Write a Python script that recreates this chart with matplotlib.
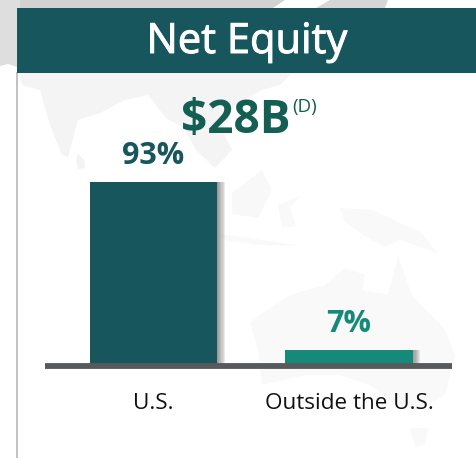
import matplotlib
matplotlib.use("Agg")
import matplotlib.pyplot as plt
import matplotlib.patheffects as pe
from matplotlib.patches import Polygon, Rectangle

categories = ["U.S.", "Outside the U.S."]
shares = [93, 7]
share_labels = ["93%", "7%"]
total_label = "$28B"
total_note = "(D)"
title = "Net Equity"

W, H = 477, 458
DARK = "#16565C"
TEAL = "#158A78"

plt.rcParams['font.family'] = ['Open Sans', 'DejaVu Sans']

fig = plt.figure(figsize=(W / 100, H / 100), dpi=100, facecolor="white")

# background layer in pixel coordinates, y going down
bg = fig.add_axes([0, 0, 1, 1], zorder=0)
bg.set_xlim(0, W)
bg.set_ylim(H, 0)
bg.axis("off")

# faint world map behind the chart, rough outlines only
top_land = [(0, 0), (285, 0), (270, 10), (0, 10)]
top_right = [(316, 8), (330, 0), (388, 0), (385, 8)]
left_land = [(0, 0), (20, 0), (20, 68), (8, 64), (0, 66)]
asia = [(18, 73), (292, 73), (280, 85), (262, 90), (235, 105), (222, 130), (232, 150),
        (215, 168), (196, 150), (184, 128), (166, 118), (148, 95), (125, 100), (100, 113),
        (78, 120), (68, 157), (62, 155), (50, 125), (40, 90), (22, 85)]
sri_lanka = [(78, 154), (84, 160), (85, 168), (78, 169), (76, 160)]
borneo = [(232, 193), (262, 170), (272, 190), (258, 218), (232, 214)]
sulawesi = [(278, 205), (300, 196), (290, 208), (296, 226), (282, 228)]
new_guinea = [(340, 208), (372, 210), (420, 232), (438, 253), (400, 240), (385, 247), (368, 238), (345, 222)]
java = [(218, 234), (250, 238), (300, 246), (260, 245), (225, 240)]
australia = [(250, 322), (290, 295), (325, 285), (345, 268), (365, 275), (362, 290), (388, 295), (398, 256),
             (412, 295), (445, 330), (455, 355), (445, 395), (420, 410), (395, 405), (370, 385),
             (340, 375), (305, 375), (262, 385), (258, 350)]
tasmania = [(410, 428), (428, 428), (425, 445), (415, 447)]

for pts, col in [(top_land, "#d2d2d2"), (top_right, "#d6d6d6"), (left_land, "#dedede"),
                 (asia, "#f4f4f4"), (sri_lanka, "#f3f3f3"), (borneo, "#f8f8f8"),
                 (sulawesi, "#f9f9f9"), (new_guinea, "#f9f9f9"), (java, "#f9f9f9"),
                 (australia, "#f9f9f9"), (tasmania, "#f9f9f9")]:
    bg.add_patch(Polygon(pts, closed=True, facecolor=col, edgecolor="none"))

# left rule and header band
bg.plot([17.5, 17.5], [73, H], color="#bdbdbd", lw=1.3)
bg.add_patch(Rectangle((17, 8), W - 17, 65, facecolor=DARK, edgecolor="none", zorder=5))
bg.text(247, 53, title, color="white", fontsize=30, ha="center", va="baseline", zorder=6,
        path_effects=[pe.withStroke(linewidth=0.7, foreground="white")])
bg.text(181, 133, total_label, color="#155E54", fontsize=33, fontweight="bold", ha="left", va="baseline")
bg.text(292, 112, total_note, color="#155E54", fontsize=13.5, ha="left", va="baseline")

# chart layer, plot area runs from x=45 to x=452 and sits on the baseline at y=363.5
ax = fig.add_axes([45 / W, 1 - 363.5 / H, 407 / W, 181.5 / H], zorder=2)
ax.patch.set_alpha(0)
x = [0, 1]
ax.set_xlim(-0.555, 1.527)
ax.set_ylim(0, 93)

# soft shadow to the right of the bars
for off in [0.04, 0.034, 0.028, 0.022, 0.016, 0.01, 0.005]:
    ax.bar([p + off for p in x], shares, width=0.65, color="#444444", alpha=0.1, zorder=1)
ax.bar(x, shares, width=0.65, color=[DARK, TEAL], zorder=2)

for p, v, lab, col, in zip(x, shares, share_labels, [DARK, TEAL]):
    ax.annotate(lab, (p, v), xytext=(0, 13), textcoords="offset points", ha="center",
                va="baseline", color=col, fontsize=22, fontweight="bold", annotation_clip=False)

for s in ["top", "left", "right"]:
    ax.spines[s].set_visible(False)
ax.spines["bottom"].set_color("#58595B")
ax.spines["bottom"].set_linewidth(4.2)
ax.spines["bottom"].set_position(("outward", 2))
ax.spines["bottom"].set_capstyle("butt")
ax.set_yticks([])
ax.set_xticks(x)
ax.set_xticklabels(categories, fontsize=16.2, color="#111111")
ax.tick_params(axis="x", length=0, pad=19.5)

fig.savefig("out.png", dpi=100)
